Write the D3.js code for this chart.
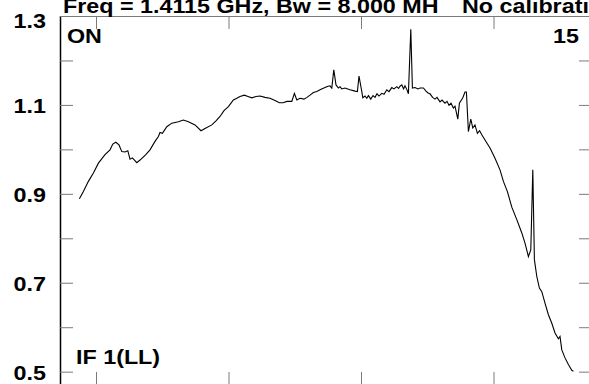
<!DOCTYPE html>
<html>
<head>
<meta charset="utf-8">
<script src="https://cdn.jsdelivr.net/npm/d3@7"></script>
<style>
  html, body { margin: 0; padding: 0; background: #fff; }
  svg { display: block; }
  text { font-family: "Liberation Sans", Arial, Helvetica, sans-serif; font-weight: bold; fill: #000; }
</style>
</head>
<body>
<svg id="chart" width="589" height="384"></svg>
<script>
// ---- data (channel index, relative amplitude) ----
const channels = [0.2,2.2,4.7,7.2,9.7,13,15.5,16.9,18.4,20,21.4,23,24.4,25.5,26.7,28.9,30.5,33.4,35.5,38,39.7,40.5,41.7,43.9,46.4,49.7,52.2,54.7,58,61,63,66.4,68.5,70.5,72.5,74.7,77.2,78.9,80.5,82.7,84.5,86.4,88.5,90.5,93,95.5,98,100.2,102,104,106.4,107.7,108.9,110.5,112.5,114,115.5,117.2,118.9,120.5,123,124.5,125.5,126.4,127.4,128.5,129.7,130.5,131.4,133,135.5,138,139.2,140,141.4,141.9,143,143.9,144.7,145.9,147,148,149,150,151.4,152.5,153.9,155,156.4,157.5,158.9,159.8,160.5,161.4,162.3,163,163.9,164.7,165.9,166.7,168,169.5,170.5,172.2,173.5,174.5,175.5,176.8,178,179,180.5,181.5,183,184,185,186,187.2,188,189.4,190.2,191.9,193,193.7,194.7,195.9,196.9,198,199.2,200.3,201.4,203,205.5,208,210.5,212.2,214.2,216.4,218.9,221.4,223,224.7,225.9,226.9,227.7,228.9,230.2,231.4,233,234.7,236.4,238,239.7,240.5,241.4,243,244.7,246.4,247.2];
const values = [0.889,0.905,0.928,0.947,0.969,0.988,0.999,1.012,1.016,1.010,0.995,0.994,0.997,0.978,0.981,0.970,0.976,0.988,0.999,1.018,1.029,1.038,1.036,1.051,1.059,1.062,1.066,1.062,1.055,1.042,1.047,1.055,1.064,1.074,1.087,1.096,1.111,1.115,1.119,1.122,1.119,1.116,1.119,1.120,1.117,1.115,1.110,1.105,1.105,1.108,1.108,1.126,1.111,1.115,1.113,1.117,1.122,1.128,1.130,1.134,1.139,1.142,1.143,1.138,1.179,1.145,1.138,1.141,1.136,1.138,1.134,1.131,1.130,1.165,1.130,1.116,1.120,1.115,1.121,1.113,1.121,1.117,1.125,1.120,1.126,1.124,1.134,1.130,1.139,1.136,1.141,1.137,1.142,1.145,1.136,1.143,1.135,1.125,1.270,1.138,1.139,1.136,1.138,1.138,1.131,1.127,1.125,1.117,1.113,1.117,1.107,1.111,1.104,1.108,1.099,1.104,1.093,1.097,1.068,1.104,1.116,1.129,1.129,1.040,1.068,1.048,1.055,1.036,1.042,1.033,1.021,1.003,0.980,0.954,0.928,0.905,0.870,0.842,0.812,0.789,0.759,0.774,0.954,0.752,0.714,0.688,0.680,0.654,0.628,0.609,0.587,0.574,0.579,0.549,0.531,0.516,0.503,0.501];
const xTickValues = [8.5, 74.75, 141, 207.25];
const yTickValues = [0.5, 0.6, 0.7, 0.8, 0.9, 1.0, 1.1, 1.2, 1.3];
const yLabelValues = [0.5, 0.7, 0.9, 1.1, 1.3];
const xDomain = [-9.5, 256.5];
const yDomain = [0.47, 1.3];
const titleText = "Freq = 1.4115 GHz, Bw = 8.000 MH";
const titleText2 = "No calibration";
const cornerTL = "ON", cornerTR = "15", cornerBL = "IF 1(LL)";

// ---- layout ----
const svg = d3.select("#chart");
const mLeft = 60, mRight = 592, mTop = 16, mBottom = 385;
const x = d3.scaleLinear().domain(xDomain).range([mLeft, mRight]);
const y = d3.scaleLinear().domain(yDomain).range([mBottom, mTop]);
const tickLen = 13;
const tickColor = "#7a7a7a";
const fontSize = 21, stretch = 1.11;

function label(px, py, str, anchor) {
  return svg.append("text")
    .attr("transform", `translate(${px},${py}) scale(${stretch},1)`)
    .attr("text-anchor", anchor || "start")
    .attr("font-size", fontSize)
    .text(str);
}

// frame: top (grey), left (black)
svg.append("line").attr("x1", mLeft).attr("x2", mRight).attr("y1", mTop + 0.5).attr("y2", mTop + 0.5)
  .attr("stroke", tickColor).attr("stroke-width", 1);
svg.append("line").attr("x1", mLeft + 0.5).attr("x2", mLeft + 0.5).attr("y1", mTop).attr("y2", mBottom)
  .attr("stroke", "#000").attr("stroke-width", 1.5);

// axes via d3.axis with inner ticks
const gLeft = svg.append("g").attr("transform", `translate(${mLeft},0)`)
  .call(d3.axisRight(y).tickValues(yTickValues).tickSize(tickLen).tickFormat(""));
const gRight = svg.append("g").attr("transform", `translate(${mRight},0)`)
  .call(d3.axisLeft(y).tickValues(yTickValues).tickSize(tickLen).tickFormat(""));
const gTop = svg.append("g").attr("transform", `translate(0,${mTop})`)
  .call(d3.axisBottom(x).tickValues(xTickValues).tickSize(tickLen).tickFormat(""));
const gBottom = svg.append("g").attr("transform", `translate(0,${mBottom})`)
  .call(d3.axisTop(x).tickValues(xTickValues).tickSize(tickLen).tickFormat(""));
[gLeft, gRight, gTop, gBottom].forEach(g => {
  g.select(".domain").remove();
  g.selectAll(".tick line").attr("stroke", tickColor).attr("stroke-width", 1);
});

// y labels
yLabelValues.forEach(v => {
  label(46, Math.max(y(v) + 8.5, 27.5), d3.format(".1f")(v), "end");
});

// title (clipped by page edges)
label(63, 12.5, titleText);
label(462, 12.5, titleText2);

// corner labels
label(67, 43, cornerTL);
label(579, 43, cornerTR, "end");
label(76, 363.5, cornerBL);

// spectrum line
const pts = channels.map((c, i) => [c, values[i]]);
svg.append("path").datum(pts)
  .attr("fill", "none").attr("stroke", "#000").attr("stroke-width", 1.1)
  .attr("stroke-linejoin", "miter")
  .attr("d", d3.line().x(d => x(d[0])).y(d => y(d[1])));
</script>
</body>
</html>
